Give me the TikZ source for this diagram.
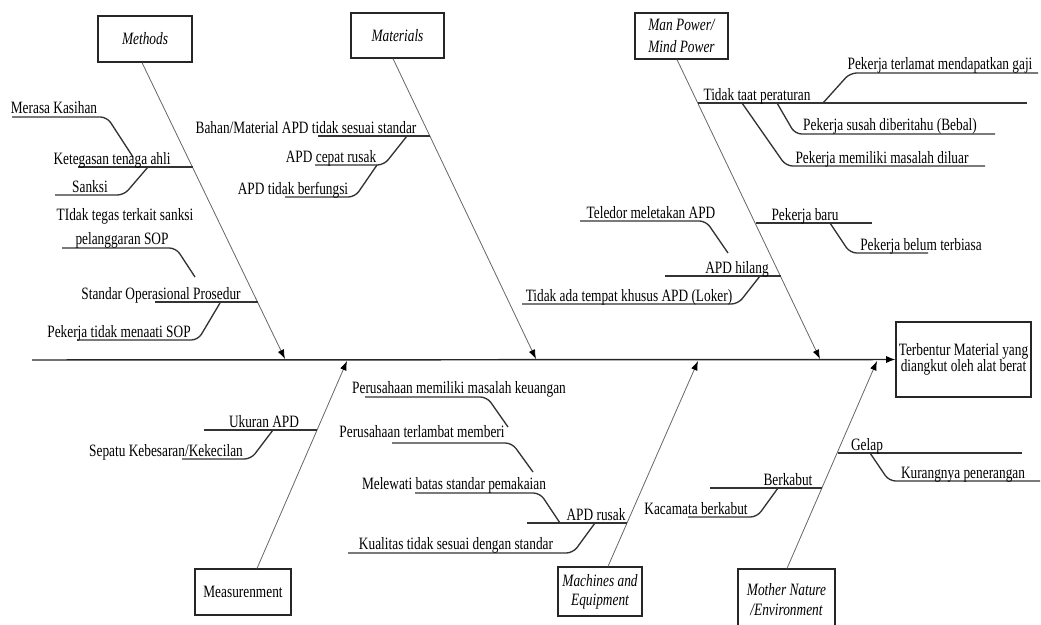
\documentclass[tikz,border=0pt]{standalone}
\usepackage{fontspec}
\usepackage{graphicx}
\setmainfont{Liberation Serif}
\usetikzlibrary{arrows.meta}
% the lettering is set in a tall, narrow cut
\newcommand{\tallt}[1]{\scalebox{1}[1.3]{#1}}
\setlength{\lineskiplimit}{-10pt}
\begin{document}
\begin{tikzpicture}[x=0.75pt,y=-0.75pt,
  lbl/.style={font=\fontsize{10}{12}\selectfont, inner sep=0pt, anchor=base},
  cat/.style={draw=black!85, line width=0.9pt, inner sep=0pt, align=center,
              font=\itshape\fontsize{10}{15}\selectfont},
  bone/.style={draw=black!60, line width=0.6pt, -{Latex[length=7pt,width=5pt,color=black]}},
  twig/.style={draw=black!80, line width=1pt, rounded corners=5pt},
  spine/.style={draw=black!85, line width=1.1pt, -{Latex[length=7pt,width=5.5pt,color=black]}}]
\useasboundingbox (0,0) rectangle (1041,624);

% ---------- category boxes and effect ----------
\node[cat, minimum width=70.5pt, minimum height=34.5pt] (methods) at (145,39) {\tallt{Methods}};
\node[cat, minimum width=69.75pt, minimum height=33.75pt] (materials) at (397.5,35.5) {\tallt{Materials}};
\node[cat, minimum width=69.75pt, minimum height=34.5pt, font=\itshape\fontsize{10}{16}\selectfont] (manpower) at (681.5,36) {\tallt{Man Power/}\\\tallt{Mind Power}};
\node[cat, minimum width=72pt, minimum height=34.5pt, font=\fontsize{10}{12}\selectfont] (measure) at (243,592) {\tallt{Measurenment}};
\node[cat, minimum width=63pt, minimum height=36.75pt, font=\itshape\fontsize{10}{14.5}\selectfont] (machines) at (600,591.5) {\tallt{Machines and}\\\tallt{Equipment}};
\node[cat, minimum width=72.75pt, minimum height=46.5pt, font=\itshape\fontsize{10}{15}\selectfont] (mother) at (786.5,600) {\tallt{Mother Nature}\\\tallt{/Environment}};
\node[cat, minimum width=101.25pt, minimum height=56.25pt, font=\fontsize{10}{12}\selectfont] (effect) at (963.5,359.5) {\tallt{Terbentur Material yang}\\\tallt{diangkut oleh alat berat}};

% ---------- spine ----------
\coordinate (tail) at (32,360);
\draw[spine] (tail) -- (effect.west);

% ---------- main bones ----------
\coordinate (hMe) at (285,359);
\coordinate (hMa) at (536,359);
\coordinate (hMp) at (820,359);
\coordinate (hMs) at (347,361);
\coordinate (hMc) at (698,361);
\coordinate (hMn) at (877,361);
\draw[bone] (methods.south -| 142,0) -- (hMe);
\draw[bone] (materials.south -| 393,0) -- (hMa);
\draw[bone] (manpower.south -| 677,0) -- (hMp);
\draw[bone] (measure.north -| 257,0) -- (hMs);
\draw[bone] (machines.north -| 608,0) -- (hMc);
\draw[bone] (mother.north -| 787,0) -- (hMn);

% ---------- Methods ----------
\draw[twig] (133,157) -- (107,117) -- (12,117);
\draw[twig] (192.7,167) -- (78,167);
\draw[twig] (148,167) -- (124,195) -- (55,195);
\draw[twig] (195,277) -- (176,248) -- (62,248);
\draw[twig] (258,302) -- (155,302);
\draw[twig] (220,303) -- (198,340) -- (77,340);
\node[lbl] (m1) at (54,114) {\tallt{Merasa Kasihan}};
\node[lbl] (m2) at (112,164) {\tallt{Ketegasan tenaga ahli}};
\node[lbl] (m3) at (90,192) {\tallt{Sanksi}};
\node[lbl] (m4a) at (125,220) {\tallt{TIdak tegas terkait sanksi}};
\node[lbl] (m4b) at (122,244) {\tallt{pelanggaran SOP}};
\node[lbl] (m5) at (161,299) {\tallt{Standar Operasional Prosedur}};
\node[lbl] (m6) at (119,337) {\tallt{Pekerja tidak menaati SOP}};

% ---------- Materials ----------
\draw[twig] (430,136) -- (318,136);
\draw[twig] (407,136) -- (384,165) -- (315,165);
\draw[twig] (377,165) -- (355,197) -- (285,197);
\node[lbl] (t1) at (306,133) {\tallt{Bahan/Material APD tidak sesuai standar}};
\node[lbl] (t2) at (331,162) {\tallt{APD cepat rusak}};
\node[lbl] (t3) at (293,194) {\tallt{APD tidak berfungsi}};

% ---------- Man Power / Mind Power ----------
\draw[twig] (698,103) -- (1027,103);
\draw[twig] (823,103) -- (850,73) -- (1038,73);
\draw[twig] (777,103) -- (795,134) -- (995,134);
\draw[twig] (742,103) -- (786,166) -- (985,166);
\draw[twig] (756,223) -- (872,223);
\draw[twig] (830,223) -- (850,253) -- (928,253);
\draw[twig] (728,253) -- (706,221) -- (580,221);
\draw[twig] (665,276) -- (781,276);
\draw[twig] (760,276) -- (738,304) -- (522,304);
\node[lbl] (p1) at (757,101) {\tallt{Tidak taat peraturan}};
\node[lbl] (p2) at (940,70) {\tallt{Pekerja terlamat mendapatkan gaji}};
\node[lbl] (p3) at (890,131) {\tallt{Pekerja susah diberitahu (Bebal)}};
\node[lbl] (p4) at (882,163) {\tallt{Pekerja memiliki masalah diluar}};
\node[lbl] (p5) at (805,220) {\tallt{Pekerja baru}};
\node[lbl] (p6) at (921,250) {\tallt{Pekerja belum terbiasa}};
\node[lbl] (p7) at (651,218) {\tallt{Teledor meletakan APD}};
\node[lbl] (p8) at (737,273) {\tallt{APD hilang}};
\node[lbl] (p9) at (629,301) {\tallt{Tidak ada tempat khusus APD (Loker)}};

% ---------- Measurenment ----------
\draw[twig] (204,430) -- (317,430);
\draw[twig] (273,430) -- (251,459) -- (182,459);
\node[lbl] (s1) at (264,427) {\tallt{Ukuran APD}};
\node[lbl] (s2) at (166,456) {\tallt{Sepatu Kebesaran/Kekecilan}};

% ---------- Machines and Equipment ----------
\draw[twig] (508,427) -- (487,397) -- (365,397);
\draw[twig] (533,472) -- (512,443) -- (392,443);
\draw[twig] (560,523) -- (540,493) -- (415,493);
\draw[twig] (527,523) -- (627,523);
\draw[twig] (595,523) -- (573,553) -- (348,553);
\node[lbl] (e1) at (459,393) {\tallt{Perusahaan memiliki masalah keuangan}};
\node[lbl] (e2) at (422,437) {\tallt{Perusahaan terlambat memberi}};
\node[lbl] (e3) at (454,489) {\tallt{Melewati batas standar pemakaian}};
\node[lbl] (e4) at (596,520) {\tallt{APD rusak}};
\node[lbl] (e5) at (456,549) {\tallt{Kualitas tidak sesuai dengan standar}};

% ---------- Mother Nature / Environment ----------
\draw[twig] (837.5,453) -- (1022,453);
\draw[twig] (870,453) -- (889,481) -- (1040,481);
\draw[twig] (710,488) -- (822,488);
\draw[twig] (778,488) -- (757,517) -- (688,517);
\node[lbl] (n1) at (867,450) {\tallt{Gelap}};
\node[lbl] (n2) at (963,478) {\tallt{Kurangnya penerangan}};
\node[lbl] (n3) at (788,485) {\tallt{Berkabut}};
\node[lbl] (n4) at (696,514) {\tallt{Kacamata berkabut}};
\end{tikzpicture}
\end{document}
